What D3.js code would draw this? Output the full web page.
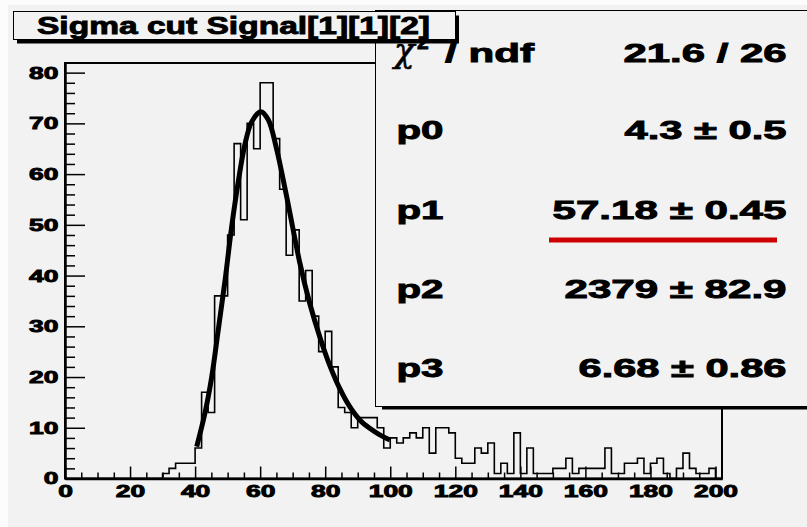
<!DOCTYPE html>
<html lang="en">
<head>
<meta charset="utf-8" />
<title>Sigma cut Signal[1][1][2]</title>
<style>
    body { margin: 0; background: #fcfcfc; }
    svg text {
        font-family: "Liberation Sans", Arial, sans-serif;
        font-weight: bold;
        fill: #000;
        stroke: #000;
        stroke-width: 0.9px;
    }
</style>
<script src="https://cdn.jsdelivr.net/npm/d3@7/dist/d3.min.js"></script>
</head>
<body>
<script>
// histogram contents, one value per 2-wide bin starting at 0
var counts = [
    0, 0, 0, 0, 0, 0, 0, 0, 0, 0, 0, 0, 0, 0, 0,   // 0 - 28
    1, 2, 3, 3, 3,          // 30 - 38
    6, 17, 13, 36, 36,      // 40
    48, 66, 51, 70, 65,     // 50
    78, 78, 67, 57, 44,     // 60
    49, 35, 41, 32, 25,     // 70
    29, 22, 14, 13, 10,     // 80
    12, 12, 12, 10, 6,      // 90
    8, 7, 8, 9, 8,          // 100
    10, 5, 10, 10, 9,       // 110
    4, 3, 3, 6, 5,          // 120
    7, 1, 3, 1, 9,          // 130
    1, 6, 1, 1, 1,          // 140
    2, 2, 4, 1, 2,          // 150
    2, 2, 2, 6, 1,          // 160
    1, 3, 3, 4, 1,          // 170
    3, 4, 1, 0, 2,          // 180
    5, 2, 1, 1, 2,          // 190
    0                       // 200
];
var binWidth = 2;
var xMax = 202, yMax = 81.9;

// fit curve
var fitX = [40.5, 43.0, 45.1, 47.1, 49.2, 51.2, 53.3, 55.3, 57.4, 60.2, 62.5, 65.0,
            67.6, 69.1, 72.2, 75.3, 78.4, 81.4, 84.5, 87.6, 90.7, 93.7, 96.8, 99.9];
var fitY = [6.3, 12.8, 20, 29.2, 39, 49.4, 58.6, 65.8, 70.3, 72.3, 70.7, 65.1,
            57.3, 52.5, 42.5, 34.4, 27.8, 22.3, 17.7, 14.1, 11.5, 9.9, 8.6, 7.6];

var xTickValues = [0, 20, 40, 60, 80, 100, 120, 140, 160, 180, 200];
var yTickValues = [0, 10, 20, 30, 40, 50, 60, 70, 80];

var title = 'Sigma cut Signal[1][1][2]';
var statNames = ['p0', 'p1', 'p2', 'p3'];
var statValues = ['4.3 \u00b1 0.5', '57.18 \u00b1 0.45', '2379 \u00b1 82.9', '6.68 \u00b1 0.86'];
var chi2Value = '21.6 / 26';

// layout
var width = 807, height = 527;
var gray = '#f2f2f2';
var statWidths = [162, 234, 222, 208];   // stretched text widths in the stats box

var svg = d3.select('body').append('svg')
    .attr('width', width)
    .attr('height', height);

// pad
svg.append('rect')
    .attr('x', 8).attr('y', 5)
    .attr('width', width - 8).attr('height', height - 5)
    .attr('fill', gray);

var x = d3.scaleLinear().domain([0, xMax]).range([65, 722]);
var y = d3.scaleLinear().domain([0, yMax]).range([478.5, 63]);

// histogram outline, step style
var pts = counts.map(function(c, i) { return [i * binWidth, c]; });
pts.push([xMax, counts[counts.length - 1]]);

var step = d3.line()
    .x(function(d) { return x(d[0]); })
    .y(function(d) { return y(d[1]); })
    .curve(d3.curveStepAfter);

svg.append('path')
    .attr('d', step(pts))
    .attr('fill', 'none')
    .attr('stroke', '#000')
    .attr('stroke-width', 1.6);

// fit function
var fitLine = d3.line()
    .x(function(d, i) { return x(fitX[i]); })
    .y(function(d, i) { return y(fitY[i]); })
    .curve(d3.curveCatmullRom);

svg.append('path')
    .attr('d', fitLine(fitX))
    .attr('fill', 'none')
    .attr('stroke', '#000')
    .attr('stroke-width', 5);

// frame
svg.append('rect')
    .attr('x', x(0)).attr('y', y(yMax))
    .attr('width', x(xMax) - x(0)).attr('height', y(0) - y(yMax))
    .attr('fill', 'none')
    .attr('stroke', '#000')
    .attr('stroke-width', 2);

// stretch text horizontally the way the original renderer does
function stretch(sel, perChar) {
    sel.each(function() {
        var t = d3.select(this);
        t.attr('textLength', t.text().length * perChar)
         .attr('lengthAdjust', 'spacingAndGlyphs');
    });
}

// x axis: major, minor
var xMinor = d3.range(0, xMax, 5).filter(function(v) { return v % 20 !== 0; });
svg.append('g')
    .attr('transform', 'translate(0,' + y(0) + ')')
    .call(d3.axisBottom(x).tickValues(xMinor).tickSize(-6).tickSizeOuter(0).tickFormat(''))
    .call(function(g) { g.select('.domain').remove(); })
    .selectAll('.tick line').attr('stroke-width', 1.5);

var gx = svg.append('g')
    .attr('transform', 'translate(0,' + y(0) + ')')
    .call(d3.axisBottom(x).tickValues(xTickValues).tickSize(-12).tickSizeOuter(0).tickPadding(6.5));
gx.select('.domain').attr('stroke-width', 2.5);
gx.selectAll('.tick line').attr('stroke-width', 1.5);
gx.selectAll('text')
    .attr('font-family', '"Liberation Sans", Arial, sans-serif')
    .attr('font-size', 17)
    .call(stretch, 14.7);

// y axis: major, minor
var yMinor = d3.range(0, yMax, 2).filter(function(v) { return v % 10 !== 0; });
svg.append('g')
    .attr('transform', 'translate(' + x(0) + ',0)')
    .call(d3.axisLeft(y).tickValues(yMinor).tickSize(-10).tickSizeOuter(0).tickFormat(''))
    .call(function(g) { g.select('.domain').remove(); })
    .selectAll('.tick line').attr('stroke-width', 1.5);

var gy = svg.append('g')
    .attr('transform', 'translate(' + x(0) + ',0)')
    .call(d3.axisLeft(y).tickValues(yTickValues).tickSize(-20).tickSizeOuter(0).tickPadding(6.5));
gy.select('.domain').attr('stroke-width', 2.5);
gy.selectAll('.tick line').attr('stroke-width', 1.5);
gy.selectAll('text')
    .attr('font-family', '"Liberation Sans", Arial, sans-serif')
    .attr('font-size', 17)
    .call(stretch, 14.7);

// stats box with shadow
svg.append('rect')
    .attr('x', 382).attr('y', 15)
    .attr('width', 500).attr('height', 394.5)
    .attr('fill', '#000');
svg.append('rect')
    .attr('x', 375.5).attr('y', 10.5)
    .attr('width', 500).attr('height', 396)
    .attr('fill', gray)
    .attr('stroke', '#000')
    .attr('stroke-width', 1);

var rowY = [61.5, 138.5, 218.5, 298, 376.5];
var valueRight = 786.5;

// chi2 row
svg.append('text')
    .attr('x', 394).attr('y', rowY[0])
    .style('font-family', '"DejaVu Serif", serif')
    .style('font-style', 'italic')
    .style('font-weight', 'normal')
    .style('stroke-width', '0.6px')
    .attr('font-size', 34)
    .text('\u03c7');
svg.append('text')
    .attr('x', 417).attr('y', 49)
    .attr('font-size', 21)
    .text('2');
svg.append('text')
    .attr('x', 445).attr('y', rowY[0])
    .attr('font-size', 26)
    .attr('textLength', 89)
    .attr('lengthAdjust', 'spacingAndGlyphs')
    .text('/ ndf');
svg.append('text')
    .attr('x', valueRight - 163).attr('y', rowY[0])
    .attr('font-size', 26)
    .attr('textLength', 163)
    .attr('lengthAdjust', 'spacingAndGlyphs')
    .text(chi2Value);

// parameter rows
svg.selectAll('text.pname')
    .data(statNames)
    .enter().append('text')
    .attr('class', 'pname')
    .attr('x', 396.5)
    .attr('y', function(d, i) { return rowY[i + 1]; })
    .attr('font-size', 26)
    .attr('textLength', 47)
    .attr('lengthAdjust', 'spacingAndGlyphs')
    .text(function(d) { return d; });

svg.selectAll('text.pval')
    .data(statValues)
    .enter().append('text')
    .attr('class', 'pval')
    .attr('x', function(d, i) { return valueRight - statWidths[i]; })
    .attr('y', function(d, i) { return rowY[i + 1]; })
    .attr('font-size', 26)
    .attr('textLength', function(d, i) { return statWidths[i]; })
    .attr('lengthAdjust', 'spacingAndGlyphs')
    .text(function(d) { return d; });

// red mark under p1
svg.append('line')
    .attr('x1', 549).attr('x2', 777)
    .attr('y1', 240).attr('y2', 240)
    .attr('stroke', '#cc0000')
    .attr('stroke-width', 5);

// title box with shadow, drawn last so it sits on top
svg.append('rect')
    .attr('x', 17).attr('y', 15.5)
    .attr('width', 442).attr('height', 28)
    .attr('fill', '#000');
svg.append('rect')
    .attr('x', 13.5).attr('y', 11.5)
    .attr('width', 442).attr('height', 28)
    .attr('fill', gray)
    .attr('stroke', '#000')
    .attr('stroke-width', 1);
svg.append('text')
    .attr('x', 37).attr('y', 34)
    .attr('font-size', 24.5)
    .attr('textLength', 393)
    .attr('lengthAdjust', 'spacingAndGlyphs')
    .text(title);
</script>
</body>
</html>
